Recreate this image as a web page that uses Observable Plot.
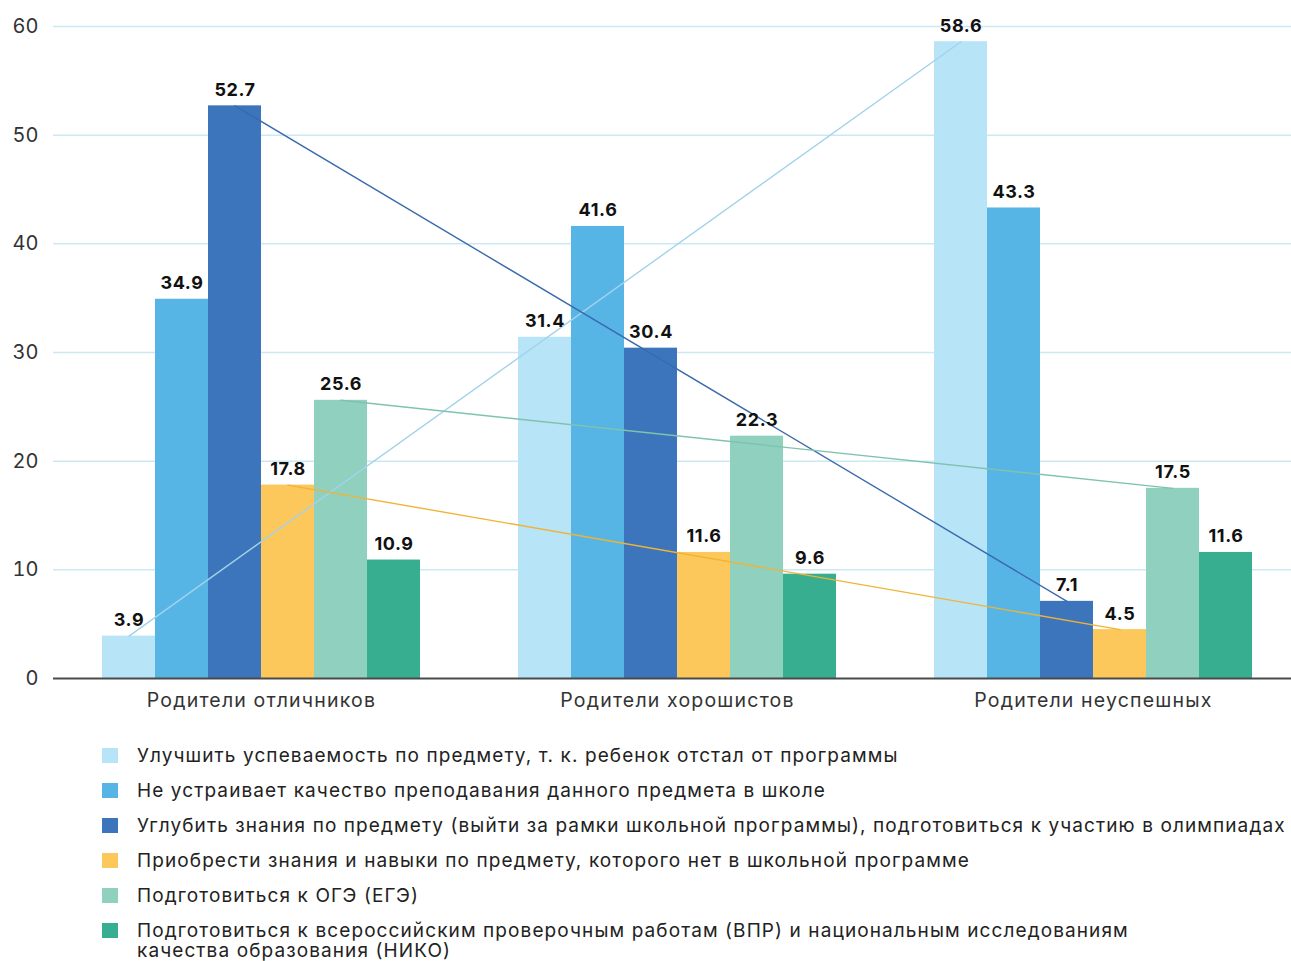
<!DOCTYPE html>
<html lang="ru">
<head>
<meta charset="utf-8">
<script src="https://cdn.jsdelivr.net/npm/d3@7"></script>
<script src="https://cdn.jsdelivr.net/npm/@observablehq/plot@0.6"></script>
<style>
  html, body { margin: 0; padding: 0; background: #fff; overflow: hidden; }
  body { font-family: Inter, "Noto Sans", sans-serif; }
  #chart svg { display: block; overflow: visible; }
  #chart g[aria-label="x-axis tick label"] text { letter-spacing: 1.2px; }
  #chart g[aria-label="text"] text { letter-spacing: 0.6px; }
  .legend { margin: 21px 0 0 102px; padding: 0; list-style: none; }
  .legend li { display: flex; align-items: flex-start; font-size: 19px; line-height: 20px; letter-spacing: 1.1px; color: #222; margin-bottom: 15px; white-space: pre-line; }
  .legend .sw { width: 16px; height: 15px; flex: none; margin: 2px 19px 0 0; }
</style>
</head>
<body>
<div id="chart"></div>
<ul class="legend" id="legend"></ul>
<script>
// Respondent groups (x axis categories)
const groups = ["Родители отличников", "Родители хорошистов", "Родители неуспешных"];

// Reasons (series), in drawing order
const reasons = [
  "Улучшить успеваемость по предмету, т. к. ребенок отстал от программы",
  "Не устраивает качество преподавания данного предмета в школе",
  "Углубить знания по предмету (выйти за рамки школьной программы), подготовиться к участию в олимпиадах",
  "Приобрести знания и навыки по предмету, которого нет в школьной программе",
  "Подготовиться к ОГЭ (ЕГЭ)",
  "Подготовиться к всероссийским проверочным работам (ВПР) и национальным исследованиям\nкачества образования (НИКО)"
];

// Values, %, one array per reason: [отличники, хорошисты, неуспешные]
const catchUp      = [3.9, 31.4, 58.6];
const poorTeaching = [34.9, 41.6, 43.3];
const deepen       = [52.7, 30.4, 7.1];
const extraSubject = [17.8, 11.6, 4.5];
const examPrep     = [25.6, 22.3, 17.5];
const vprPrep      = [10.9, 9.6, 11.6];

const seriesValues = [catchUp, poorTeaching, deepen, extraSubject, examPrep, vprPrep];

// Reasons that carry a trend line between the first and the last group
const trendSeries = [0, 2, 3, 4];

const yTicks = [0, 10, 20, 30, 40, 50, 60];

const barColors  = ["#b8e4f8", "#57b5e6", "#3c75bb", "#fdc85b", "#90d0be", "#37ae8f"];
const lineColors = ["#a3d3ea", "#3a6aae", "#f0b336", "#7fc3ae"];

// Each group occupies one unit on x; the six bars fill its central part
const barW = 53 / 416;
const rows = [];
seriesValues.forEach((vals, s) => {
  vals.forEach((v, g) => {
    const x1 = g + (s - 3) * barW;
    rows.push({ g, s, value: v, x1, x2: x1 + barW, xc: x1 + barW / 2 });
  });
});

const trendRows = [];
trendSeries.forEach((s, k) => {
  for (const g of [0, groups.length - 1]) {
    const r = rows.find(d => d.s === s && d.g === g);
    trendRows.push({ ...r, k });
  }
});

const plot = Plot.plot({
  width: 1291,
  height: 725,
  marginLeft: 53,
  marginRight: -10,
  marginTop: 26,
  marginBottom: 47,
  style: { fontFamily: "Inter, 'Noto Sans', sans-serif", background: "#fff", overflow: "visible" },
  x: { domain: [-0.5, groups.length - 0.5], axis: null },
  y: { domain: [0, 60], axis: null },
  marks: [
    Plot.ruleY(yTicks.filter(t => t > 0), { stroke: "#cbe9f5", strokeWidth: 1.5 }),
    Plot.rectY(rows, {
      x1: "x1", x2: "x2", y1: 0, y2: "value",
      fill: d => barColors[d.s]
    }),
    Plot.ruleY([0], { stroke: "#4a4a4a", strokeWidth: 2 }),
    ...trendSeries.map((s, k) => Plot.line(trendRows.filter(d => d.k === k), {
      x: "xc", y: "value", stroke: lineColors[k], strokeWidth: 1.4
    })),
    Plot.text(rows, {
      x: "xc", y: "value", text: d => d.value.toFixed(1),
      dy: -10, lineAnchor: "bottom", fontSize: 18, fontWeight: 700, fill: "#111"
    }),
    Plot.axisY(yTicks, {
      tickSize: 0, tickPadding: 15, fontSize: 20, color: "#333", label: null
    }),
    Plot.axisX(groups.map((_, i) => i), {
      tickSize: 0, tickPadding: 15, fontSize: 19.5, color: "#333", label: null,
      tickFormat: i => groups[i]
    })
  ]
});
document.getElementById("chart").appendChild(plot);

const legend = d3.select("#legend");
reasons.forEach((name, i) => {
  const li = legend.append("li");
  li.append("span").attr("class", "sw").style("background", barColors[i]);
  li.append("span").text(name);
});
</script>
</body>
</html>
